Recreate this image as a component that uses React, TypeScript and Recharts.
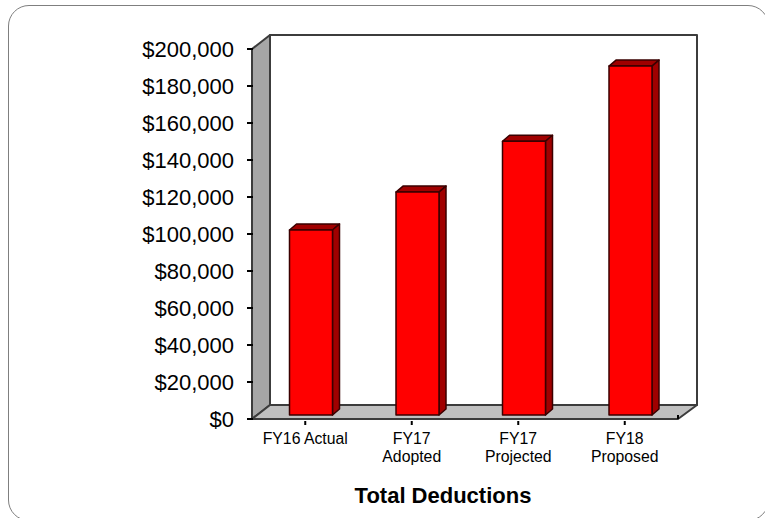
import React from 'react'
import { BarChart, Bar, XAxis, YAxis, usePlotArea } from 'recharts'

const categories = ['FY16 Actual', 'FY17|Adopted', 'FY17|Projected', 'FY18|Proposed']
const deductions = [100000, 120500, 148000, 188600]
const yTicks = [0, 20000, 40000, 60000, 80000, 100000, 120000, 140000, 160000, 180000, 200000]

const data = categories.map((name, i) => ({ name, value: deductions[i] }))

const WALL_DX = 18
const WALL_DY = 14
const BAR_DX = 5.5
const BAR_DY = 4
const BAR_SIDE_DX = 7
const BAR_SIDE_DY = 6

const formatMoney = (v: number) => '$' + v.toLocaleString('en-US')

// back wall, left wall and floor of the fake 3D box
const Box = () => {
   const plot = usePlotArea()
   if (!plot) return null
   const { x, y, width, height } = plot
   const right = x + width
   const bottom = y + height
   const edge = { stroke: '#3c3c3c', strokeWidth: 2, strokeLinejoin: 'round' as const }
   return (
      <g>
         <rect x={x + WALL_DX} y={y - WALL_DY} width={width + 1} height={height} fill='#ffffff' {...edge} />
         <polygon
            points={`${x},${y} ${x + WALL_DX},${y - WALL_DY} ${x + WALL_DX},${bottom - WALL_DY} ${x},${bottom}`}
            fill='#a6a6a6'
            {...edge}
         />
         <polygon
            points={`${x},${bottom} ${x + WALL_DX},${bottom - WALL_DY} ${right + WALL_DX + 1},${bottom - WALL_DY} ${right},${bottom}`}
            fill='#c0c0c0'
            {...edge}
         />
         <line x1={right} x2={right} y1={bottom} y2={bottom - 4} stroke='#000000' strokeWidth={2} />
      </g>
   )
}

const Bar3D = (props: any) => {
   const { x, y, width, height } = props
   const left = x + BAR_DX
   const top = y - BAR_DY
   const right = left + width
   const bottom = top + height
   const edge = { stroke: '#3a0000', strokeWidth: 1.5, strokeLinejoin: 'round' as const }
   return (
      <g>
         <polygon
            points={`${left},${top} ${left + BAR_SIDE_DX},${top - BAR_SIDE_DY} ${right + BAR_SIDE_DX},${top - BAR_SIDE_DY} ${right},${top}`}
            fill='#a00000'
            {...edge}
         />
         <polygon
            points={`${right},${top} ${right + BAR_SIDE_DX},${top - BAR_SIDE_DY} ${right + BAR_SIDE_DX},${bottom - BAR_SIDE_DY} ${right},${bottom}`}
            fill='#a00000'
            {...edge}
         />
         <rect x={left} y={top} width={width} height={height} fill='#ff0000' {...edge} />
      </g>
   )
}

const YTick = ({ x, y, payload }: any) => (
   <g>
      <line x1={x + 1} x2={x + 7} y1={y} y2={y} stroke='#000000' strokeWidth={2} />
      <text x={x - 12} y={y + 8} textAnchor='end' fontSize={22} fill='#000000'>
         {formatMoney(payload.value)}
      </text>
   </g>
)

const XTick = ({ x, y, payload }: any) => (
   <g>
      <line x1={x} x2={x} y1={y} y2={y - 4} stroke='#000000' strokeWidth={2} />
      <text x={x} y={y + 19} textAnchor='middle' fontSize={15.8} fill='#000000'>
         {String(payload.value)
            .split('|')
            .map((line, i) => (
               <tspan key={line} x={x} dy={i === 0 ? 0 : 18}>
                  {line}
               </tspan>
            ))}
      </text>
   </g>
)

const App = () => (
   <div
      style={{
         position: 'absolute',
         left: 0,
         top: 0,
         width: 765,
         height: 518,
         overflow: 'hidden',
         fontFamily: '"Liberation Sans", Arial, sans-serif',
      }}
   >
      <div
         style={{
            position: 'absolute',
            left: 8,
            top: 5,
            width: 759,
            height: 514,
            border: '1px solid #7f7f7f',
            borderRadius: 21,
         }}
      />
      <div style={{ position: 'absolute', left: 0, top: 0 }}>
         <BarChart width={765} height={518} data={data} margin={{ top: 49, right: 87, left: 0, bottom: 0 }}>
            <Box />
            <XAxis
               dataKey='name'
               height={99}
               axisLine={false}
               tickLine={false}
               tickMargin={0}
               tick={XTick}
               interval={0}
               label={{
                  value: 'Total Deductions',
                  position: 'insideBottom',
                  offset: 15,
                  fontSize: 22,
                  fontWeight: 700,
                  fill: '#000000',
                  dx: -22,
               }}
            />
            <YAxis
               width={252}
               domain={[0, 200000]}
               ticks={yTicks}
               interval={0}
               axisLine={false}
               tickLine={false}
               tickMargin={0}
               tick={YTick}
            />
            <Bar dataKey='value' barSize={43} shape={Bar3D} isAnimationActive={false} />
         </BarChart>
      </div>
   </div>
)

export default App
